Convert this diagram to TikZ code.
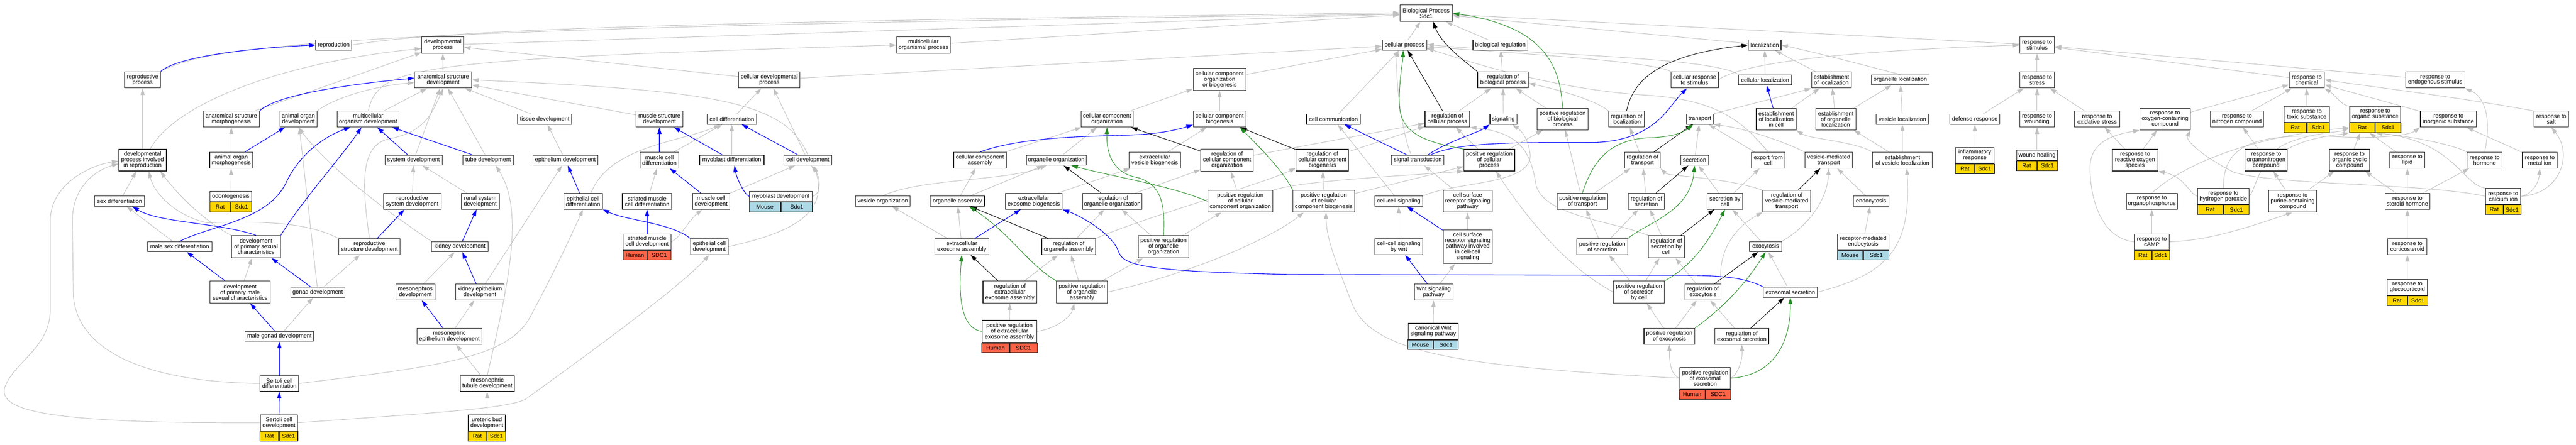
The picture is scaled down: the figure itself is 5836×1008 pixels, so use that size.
\documentclass[tikz,border=0pt]{standalone}
\usepackage{fontspec}
\setmainfont{Liberation Sans}
\usetikzlibrary{arrows.meta}
\definecolor{gy}{HTML}{FFD700}
\definecolor{lb}{HTML}{ADD8E6}
\definecolor{rd}{HTML}{FF6347}
\definecolor{eg}{HTML}{C0C0C0}
\definecolor{eG}{HTML}{228B22}
\newcommand\tf{\fontsize{13}{12.8}\selectfont}
\pgfdeclarelayer{bgpaper}\pgfdeclarelayer{bg}\pgfsetlayers{bgpaper,bg,main}
\tikzset{
 term/.style={draw=black!85, line width=1.3pt, fill=white, inner sep=0pt, align=center, font=\tf},
 gcell/.style={draw=black!85, line width=1.3pt, inner sep=0pt, minimum height=22pt, font=\tf},
 tip/.style={-{Triangle[length=15pt,width=9.5pt]}},
 isa/.style={draw=eg, line width=1.1pt, tip},
 po/.style={draw=blue, line width=1.3pt, tip},
 rg/.style={draw=black, line width=1.1pt, tip},
 pr/.style={draw=eG, line width=1.1pt, tip}
}
\newcommand\Tm[6]{\node[term,minimum width=#4pt,minimum height=#5pt] (#1) at (#2,#3) {#6};}
\newcommand\Gn[9]{\Tm{#1}{#2}{#3}{#4}{#5}{#6}%
 \node[gcell,fill=#7,minimum width=#4pt/2,anchor=north east] (#1-sp) at (#1.south) {#8};%
 \node[gcell,fill=#7,minimum width=#4pt/2,anchor=north west] (#1-g) at (#1.south) {#9};}
\begin{document}
\begin{tikzpicture}[x=1pt,y=-1pt]
\begin{pgfonlayer}{bgpaper}
\fill[white] (0,0) rectangle (5836,1008);
\end{pgfonlayer}
\useasboundingbox (0,0) rectangle (5836,1008);
% row 30/102
\Tm{bp}{3231}{30}{119}{37}{Biological Process\\Sdc1}
\Tm{repro}{756}{102}{81}{23}{reproduction}
\Tm{devproc}{1003}{102}{95}{37}{developmental\\process}
\Tm{mcop}{2092}{102}{122}{37}{multicellular\\organismal process}
\Tm{cellproc}{3182}{102}{101}{23}{cellular process}
\Tm{bioreg}{3399}{102}{124}{23}{biological regulation}
\Tm{loc}{3998}{102}{74}{23}{localization}
\Tm{respstim}{4615}{102}{79}{37}{response to\\stimulus}
% row 181
\Tm{repproc}{323}{181}{81}{37}{reproductive\\process}
\Tm{asd}{1004}{181}{129}{37}{anatomical structure\\development}
\Tm{celldevproc}{1743}{181}{139}{37}{cellular developmental\\process}
\Tm{ccob}{2763}{180}{119}{50}{cellular component\\organization\\or biogenesis}
\Tm{rbp}{3405}{181}{115}{37}{regulation of\\biological process}
\Tm{crs}{3839}{181}{107}{37}{cellular response\\to stimulus}
\Tm{cellloc}{3999}{181}{120}{23}{cellular localization}
\Tm{estloc}{4149}{181}{90}{37}{establishment\\of localization}
\Tm{orgloc}{4305}{181}{131}{23}{organelle localization}
\Tm{respstress}{4615}{181}{79}{37}{response to\\stress}
\Tm{respchem}{5226}{181}{79}{37}{response to\\chemical}
\Tm{respendo}{5517}{181}{134}{37}{response to\\endogenous stimulus}
% row 270
\Tm{asmorph}{524}{270}{127}{36}{anatomical structure\\morphogenesis}
\Tm{aod}{676}{270}{84}{36}{animal organ\\development}
\Tm{mcod}{834}{270}{141}{36}{multicellular\\organism development}
\Tm{tissuedev}{1234}{270}{123}{23}{tissue development}
\Tm{musclestruct}{1494}{270}{106}{36}{muscle structure\\development}
\Tm{celldiff}{1658}{270}{112}{23}{cell differentiation}
\Tm{cco}{2508}{270}{118}{36}{cellular component\\organization}
\Tm{ccb}{2763}{270}{119}{36}{cellular component\\biogenesis}
\Tm{cellcomm}{3021}{270}{122}{23}{cell communication}
\Tm{rcp}{3279}{270}{101}{36}{regulation of\\cellular process}
\Tm{signaling}{3406}{270}{61}{23}{signaling}
\Tm{prbp}{3540}{270}{115}{49}{positive regulation\\of biological\\process}
\Tm{regloc}{3685}{270}{81}{36}{regulation of\\localization}
\Tm{transport}{3851}{270}{61}{23}{transport}
\Tm{elic}{4024}{270}{90}{49}{establishment\\of localization\\in cell}
\Tm{eol}{4159}{270}{91}{49}{establishment\\of organelle\\localization}
\Tm{vesloc}{4310}{270}{120}{23}{vesicle localization}
\Tm{defense}{4474}{270}{113}{23}{defense response}
\Tm{wounding}{4615}{270}{79}{36}{response to\\wounding}
\Tm{oxstress}{4751}{270}{102}{36}{response to\\oxidative stress}
\Tm{rocc}{4905}{270}{114}{49}{response to\\oxygen-containing\\compound}
\Tm{nitro}{5068}{270}{120}{36}{response to\\nitrogen compound}
\Gn{toxic}{5226}{259}{102}{36}{response to\\toxic substance}{gy}{Rat}{Sdc1}
\Gn{organic}{5381}{259}{115}{36}{response to\\organic substance}{gy}{Rat}{Sdc1}
\Tm{inorganic}{5547}{270}{127}{36}{response to\\inorganic substance}
\Tm{salt}{5780}{270}{79}{36}{response to\\salt}
% row 363
\Tm{dpir}{323}{363}{108}{49}{developmental\\process involved\\in reproduction}
\Tm{aom}{524}{363}{98}{36}{animal organ\\morphogenesis}
\Tm{sysdev}{937}{363}{130}{23}{system development}
\Tm{tubedev}{1106}{363}{114}{23}{tube development}
\Tm{epidev}{1281}{363}{147}{23}{epithelium development}
\Tm{mcdiff}{1494}{363}{88}{36}{muscle cell\\differentiation}
\Tm{myodiff}{1658}{363}{146}{23}{myoblast differentiation}
\Tm{celldev}{1830}{363}{108}{23}{cell development}
\Tm{cca}{2220}{363}{119}{36}{cellular component\\assembly}
\Tm{orgorg}{2393}{363}{136}{23}{organelle organization}
\Tm{evb}{2616}{363}{117}{36}{extracellular\\vesicle biogenesis}
\Tm{rcco}{2780}{363}{119}{50}{regulation of\\cellular component\\organization}
\Tm{rccb}{2996}{363}{119}{49}{regulation of\\cellular component\\biogenesis}
\Tm{sigtrans}{3212}{363}{119}{23}{signal transduction}
\Tm{prcp}{3374}{363}{115}{49}{positive regulation\\of cellular\\process}
\Tm{regtrans}{3721}{363}{81}{36}{regulation of\\transport}
\Tm{secretion}{3839}{363}{63}{23}{secretion}
\Tm{exportcell}{4006}{363}{76}{36}{export from\\cell}
\Tm{vmt}{4143}{363}{108}{36}{vesicle-mediated\\transport}
\Tm{evl}{4310}{363}{135}{36}{establishment\\of vesicle localization}
\Gn{inflam}{4474}{352}{87}{36}{inflammatory\\response}{gy}{Rat}{Sdc1}
\Gn{woundheal}{4615}{352}{92}{23}{wound healing}{gy}{Rat}{Sdc1}
\Tm{ros}{4837}{363}{103}{49}{response to\\reactive oxygen\\species}
\Tm{orgN}{5134}{363}{95}{49}{response to\\organonitrogen\\compound}
\Tm{orgcyc}{5323}{363}{91}{49}{response to\\organic cyclic\\compound}
\Tm{lipid}{5454}{363}{79}{36}{response to\\lipid}
\Tm{hormone}{5629}{363}{79}{36}{response to\\hormone}
\Tm{metal}{5754}{363}{79}{36}{response to\\metal ion}
% row 456
\Gn{odonto}{523}{445}{94}{23}{odontogenesis}{gy}{Rat}{Sdc1}
\Tm{sexdiff}{271}{456}{113}{23}{sex differentiation}
\Tm{rsd}{934}{456}{131}{36}{reproductive\\system development}
\Tm{renal}{1088}{456}{86}{36}{renal system\\development}
\Tm{epicelldiff}{1321}{456}{88}{36}{epithelial cell\\differentiation}
\Tm{smcdiff}{1466}{456}{112}{36}{striated muscle\\cell differentiation}
\Tm{mcdev}{1611}{456}{84}{36}{muscle cell\\development}
\Gn{myodev}{1769}{445}{142}{23}{myoblast development}{lb}{Mouse}{Sdc1}
\Tm{vesorg}{2000}{456}{124}{23}{vesicle organization}
\Tm{orgasm}{2169}{456}{123}{23}{organelle assembly}
\Tm{eeb}{2342}{456}{129}{36}{extracellular\\exosome biogenesis}
\Tm{roo}{2520}{456}{135}{36}{regulation of\\organelle organization}
\Tm{prcco}{2810}{456}{148}{49}{positive regulation\\of cellular\\component organization}
\Tm{prccb}{2999}{456}{140}{49}{positive regulation\\of cellular\\component biogenesis}
\Tm{ccsig}{3169}{456}{109}{23}{cell-cell signaling}
\Tm{csrsp}{3325}{456}{111}{49}{cell surface\\receptor signaling\\pathway}
\Tm{prt}{3585}{456}{115}{36}{positive regulation\\of transport}
\Tm{regsec}{3730}{456}{82}{36}{regulation of\\secretion}
\Tm{secbycell}{3908}{456}{81}{36}{secretion by\\cell}
\Tm{rvmt}{4048}{456}{108}{49}{regulation of\\vesicle-mediated\\transport}
\Tm{endocyt}{4239}{456}{80}{23}{endocytosis}
\Tm{organophos}{4875}{456}{115}{36}{response to\\organophosphorus}
\Gn{rhp}{5037}{445}{116}{36}{response to\\hydrogen peroxide}{gy}{Rat}{Sdc1}
\Tm{purine}{5194}{456}{108}{49}{response to\\purine-containing\\compound}
\Tm{steroid}{5454}{456}{102}{36}{response to\\steroid hormone}
\Gn{calcium}{5671}{445}{79}{36}{response to\\calcium ion}{gy}{Rat}{Sdc1}
% row 559
\Tm{msd}{407}{559}{146}{23}{male sex differentiation}
\Tm{dpsc}{580}{559}{111}{50}{development\\of primary sexual\\characteristics}
\Tm{rstructd}{837}{559}{139}{36}{reproductive\\structure development}
\Tm{kidney}{1042}{559}{128}{23}{kidney development}
\Gn{smcdev}{1466}{548}{108}{36}{striated muscle\\cell development}{rd}{Human}{SDC1}
\Tm{epicelldev}{1607}{559}{85}{36}{epithelial cell\\development}
\Tm{eea}{2179}{559}{122}{36}{extracellular\\exosome assembly}
\Tm{roa}{2421}{559}{122}{36}{regulation of\\organelle assembly}
\Tm{proo}{2636}{559}{114}{50}{positive regulation\\of organelle\\organization}
\Tm{ccswnt}{3169}{559}{109}{36}{cell-cell signaling\\by wnt}
\Tm{csrspccs}{3325}{559}{111}{76}{cell surface\\receptor signaling\\pathway involved\\in cell-cell\\signaling}
\Tm{prsec}{3630}{559}{115}{36}{positive regulation\\of secretion}
\Tm{rsbc}{3775}{559}{81}{50}{regulation of\\secretion by\\cell}
\Tm{exocyt}{4000}{559}{73}{23}{exocytosis}
\Gn{rme}{4221}{548}{116}{36}{receptor-mediated\\endocytosis}{lb}{Mouse}{Sdc1}
\Gn{camp}{4875}{548}{79}{36}{response to\\cAMP}{gy}{Rat}{Sdc1}
\Tm{cortico}{5454}{559}{89}{36}{response to\\corticosteroid}
% row 662
\Tm{dpmsc}{544}{662}{137}{50}{development\\of primary male\\sexual characteristics}
\Tm{gonad}{720}{662}{122}{23}{gonad development}
\Tm{mesonephros}{941}{662}{89}{36}{mesonephros\\development}
\Tm{kidepi}{1087}{662}{110}{36}{kidney epithelium\\development}
\Tm{reea}{2288}{662}{122}{50}{regulation of\\extracellular\\exosome assembly}
\Tm{proa}{2451}{662}{115}{50}{positive regulation\\of organelle\\assembly}
\Tm{wnt}{3248}{662}{88}{36}{Wnt signaling\\pathway}
\Tm{prsbc}{3713}{662}{115}{50}{positive regulation\\of secretion\\by cell}
\Tm{rexo}{3858}{662}{81}{36}{regulation of\\exocytosis}
\Tm{exosec}{4056}{662}{123}{23}{exosomal secretion}
\Gn{gluco}{5454}{651}{91}{36}{response to\\glucocorticoid}{gy}{Rat}{Sdc1}
% row 762
\Tm{mgd}{633}{762}{155}{23}{male gonad development}
\Tm{mesoepi}{1018}{762}{147}{36}{mesonephric\\epithelium development}
\Gn{preea}{2287}{751}{124}{50}{positive regulation\\of extracellular\\exosome assembly}{rd}{Human}{SDC1}
\Gn{canwnt}{3247}{751}{113}{36}{canonical Wnt\\signaling pathway}{lb}{Mouse}{Sdc1}
\Tm{prexo}{3782}{762}{115}{36}{positive regulation\\of exocytosis}
\Tm{rexosec}{3946}{762}{122}{36}{regulation of\\exosomal secretion}
% row 869
\Tm{scdiff}{633}{869}{88}{36}{Sertoli cell\\differentiation}
\Tm{mtd}{1104}{869}{123}{36}{mesonephric\\tubule development}
\Gn{pres}{3863}{857}{115}{49}{positive regulation\\of exosomal\\secretion}{rd}{Human}{SDC1}
% row 958
\Gn{scdev}{632}{958}{84}{36}{Sertoli cell\\development}{gy}{Rat}{Sdc1}
\Gn{ureteric}{1103}{958}{84}{36}{ureteric bud\\development}{gy}{Rat}{Sdc1}

\begin{pgfonlayer}{bg}
% ---------- gray is_a ----------
\draw[isa] (repproc.north east) .. controls (480,100) and (800,62) .. ([yshift=-2pt]bp.west);
\draw[isa] (repro.east) .. controls (1000,68) and (1500,50) .. ([yshift=1pt]bp.west);
\draw[isa] (devproc) -- (bp);
\draw[isa] (mcop) -- (bp);
\draw[isa] (dpir) -- (repproc);
\draw[isa] ([xshift=17pt]dpir.north) .. controls (400,230) and (650,140) .. ([yshift=-8pt]devproc.west);
\draw[isa] (asd) -- (devproc);
\draw[isa] (asmorph) -- (devproc);
\draw[isa] (aod.north east) .. controls (760,220) and (850,195) .. ([yshift=-6pt]asd.west);
\draw[isa] (mcod) -- (asd);
\draw[isa] (mcod.north) .. controls (860,150) and (920,135) .. (mcop.west);
\draw[isa] (aom) -- (asmorph);
\draw[isa] (odonto) -- (aom);
\draw[isa] (sysdev) -- (asd);
\draw[isa] (sexdiff) -- (dpir);
\draw[isa] (rsd) -- (sysdev);
\draw[isa] (msd) -- (sexdiff);
\draw[isa] (dpmsc) -- (dpsc);
\draw[isa] (gonad) -- (rstructd);
\draw[isa] (gonad) -- (aod);
\draw[isa] (mgd) -- (gonad);
\draw[isa] (scdiff.west) .. controls (300,865) and (166,780) .. (166,660) -- (164,500) .. controls (164,420) and (220,385) .. ([yshift=-8pt]dpir.west);
\draw[isa] (scdev.west) .. controls (100,960) and (0,930) .. (10,880) .. controls (30,820) and (114,790) .. (114,700) -- (114,500) .. controls (114,420) and (200,375) .. ([yshift=-2pt]dpir.west);
\draw[isa] (scdiff.east) .. controls (1000,830) and (1150,810) .. (1200,720) .. controls (1260,610) and (1300,520) .. (epicelldiff.south);
\draw[isa] (scdev.east) .. controls (1000,935) and (1150,925) .. (1190,905) .. controls (1350,790) and (1540,650) .. (epicelldev.south);
\draw[isa] (rstructd.north) .. controls (820,420) and (815,330) .. (880,315) .. controls (960,300) and (978,260) .. (asd.south);
\draw[isa] (rstructd.north west) .. controls (700,505) and (600,500) .. (470,505) .. controls (400,490) and (350,440) .. ([xshift=14pt]dpir.south);
\draw[isa] (dpsc.north west) .. controls (470,505) and (410,450) .. ([xshift=40pt]dpir.south);
\draw[isa] (renal) -- (sysdev);
\draw[isa] (kidney.north west) .. controls (930,515) and (760,400) .. (aod.south);
\draw[isa] (mesonephros) -- (kidney);
\draw[isa] (mesoepi) -- (kidepi);
\draw[isa] (kidepi) -- (epidev);
\draw[isa] (mtd) -- (mesoepi);
\draw[isa] (mtd.north) .. controls (1150,650) and (1190,480) .. ([xshift=17pt]tubedev.south);
\draw[isa] (ureteric) -- (mtd);
\draw[isa] (tubedev) -- (asd);
\draw[isa] (tissuedev) -- (asd);
\draw[isa] (musclestruct) -- (asd);
\draw[isa] (celldev.north) .. controls (1780,230) and (1620,205) .. (asd.east);
\draw[isa] (celldev) -- (celldevproc);
\draw[isa] (celldiff) -- (celldevproc);
\draw[isa] (celldevproc) -- (devproc);
\draw[isa] (celldevproc) -- (cellproc);
\draw[isa] (mcdiff) -- (celldiff);
\draw[isa] (myodiff) -- (celldiff);
\draw[isa] (epidev) -- (tissuedev);
\draw[isa] ([xshift=18pt]epicelldiff.north) .. controls (1380,330) and (1550,320) .. (celldiff);
\draw[isa] (smcdiff) -- (mcdiff);
\draw[isa] (mcdev) -- (celldev);
\draw[isa] (myodev.east) .. controls (1862,440) and (1858,400) .. ([xshift=8pt]celldev.south);
\draw[isa] (epicelldev.east) .. controls (1780,530) and (1880,490) .. ([xshift=14pt]celldev.south);
\draw[isa] (smcdev.east) .. controls (1540,540) and (1560,500) .. ([xshift=-20pt]mcdev.south);
\draw[isa] (evb) -- (ccb);
\draw[isa] (cca) -- (cco);
\draw[isa] (orgorg) -- (cco);
\draw[isa] (cco) -- (ccob);
\draw[isa] (ccb) -- (ccob);
\draw[isa] (ccob) -- (cellproc);
\draw[isa] (vesorg.north) .. controls (2080,405) and (2280,410) .. ([xshift=-22pt]orgorg.south);
\draw[isa] (orgasm) -- (cca);
\draw[isa] (orgasm) -- (orgorg);
\draw[isa] (eeb) -- (evb);
\draw[isa] (roo) -- (rcco);
\draw[isa] (prcco) -- (rcco);
\draw[isa] (rcco) -- (rcp);
\draw[isa] (rccb) -- (rcp);
\draw[isa] (eea) -- (vesorg);
\draw[isa] (eea) -- (orgasm);
\draw[isa] (roa) -- (roo);
\draw[isa] (roa.north east) .. controls (2600,490) and (2850,420) .. ([yshift=-18pt]rccb.west);
\draw[isa] (proo) -- (roo);
\draw[isa] (proo) -- (prcco);
\draw[isa] (proa) -- (roa);
\draw[isa] (proa) -- (proo);
\draw[isa] (proa.east) .. controls (2700,620) and (2880,540) .. ([xshift=-45pt]prccb.south);
\draw[isa] (reea) -- (roa);
\draw[isa] (preea) -- (reea);
\draw[isa] (preea.east) .. controls (2390,745) and (2425,720) .. ([xshift=-17pt]proa.south);
\draw[isa] (prcco.north east) .. controls (2950,410) and (3150,400) .. (prcp.south west);
\draw[isa] (prccb) -- (rccb);
\draw[isa] (prccb) -- (prcp);
\draw[isa] (pres.west) .. controls (3300,830) and (3100,800) .. (3060,680) .. controls (3025,590) and (3005,540) .. ([xshift=5pt]prccb.south);
\draw[isa] (cellcomm) -- (cellproc);
\draw[isa] ([xshift=-15pt]sigtrans.north) .. controls (3175,300) and (3160,170) .. ([xshift=-15pt]cellproc.south);
\draw[isa] (cellproc) -- (bp);
\draw[isa] (bioreg) -- (bp);
\draw[isa] (rbp) -- (bioreg);
\draw[isa] (rcp) -- (rbp);
\draw[isa] (signaling) -- (rbp);
\draw[isa] (prbp) -- (rbp);
\draw[isa] (regloc.north west) .. controls (3620,230) and (3540,205) .. ([yshift=-8pt]rbp.east);
\draw[isa] (crs.north west) .. controls (3740,140) and (3500,125) .. ([yshift=-4pt]cellproc.east);
\draw[isa] (cellloc.north west) .. controls (3880,130) and (3500,125) .. ([yshift=1pt]cellproc.east);
\draw[isa] (exportcell.north) .. controls (3950,280) and (3900,225) .. (3720,215) .. controls (3500,200) and (3300,130) .. ([yshift=-8pt]cellproc.east);
\draw[isa] (crs.east) .. controls (3950,140) and (4200,115) .. (respstim.west);
\draw[isa] (prcp) -- (rcp);
\draw[isa] (prcp) -- (prbp);
\draw[isa] (ccsig) -- (cellcomm);
\draw[isa] (ccsig.north east) .. controls (3300,410) and (3480,420) .. (3466,345) .. controls (3460,310) and (3445,295) .. ([xshift=20pt]signaling.south);
\draw[isa] (csrsp) -- (sigtrans);
\draw[isa] (prt) -- (regtrans);
\draw[isa] (prt) -- (prbp);
\draw[isa] (regtrans) -- (regloc);
\draw[isa] (secretion) -- (transport);
\draw[isa] (regsec) -- (regtrans);
\draw[isa] (prsec) -- (prt);
\draw[isa] (prsec) -- (regsec);
\draw[isa] (rsbc) -- (regsec);
\draw[isa] (rsbc.north west) .. controls (3650,500) and (3500,490) .. (3480,420) .. controls (3468,340) and (3440,300) .. (rcp.south east);
\draw[isa] (prsbc) -- (prsec);
\draw[isa] (prsbc) -- (rsbc);
\draw[isa] (prsbc.west) .. controls (3540,600) and (3450,480) .. ([xshift=15pt]prcp.south);
\draw[isa] (rexo) -- (rsbc);
\draw[isa] (rexo.north east) .. controls (3890,560) and (3940,510) .. (rvmt.south west);
\draw[isa] (prexo) -- (prsbc);
\draw[isa] (prexo) -- (rexo);
\draw[isa] (pres.west) .. controls (3785,850) and (3782,820) .. (prexo.south);
\draw[isa] (pres.east) .. controls (3935,850) and (3948,820) .. (rexosec.south);
\draw[isa] (rexosec) -- (rexo);
\draw[isa] (exosec) -- (exocyt);
\draw[isa] (exosec.east) .. controls (4280,620) and (4330,560) .. ([xshift=10pt]evl.south);
\draw[isa] (exocyt) -- (secbycell);
\draw[isa] (exocyt.north east) .. controls (4100,510) and (4140,450) .. (vmt.south);
\draw[isa] (rme) -- (endocyt);
\draw[isa] (endocyt) -- (vmt);
\draw[isa] (secbycell) -- (secretion);
\draw[isa] (secbycell) -- (exportcell);
\draw[isa] (rvmt.north west) .. controls (3900,400) and (3780,400) .. (regtrans.south east);
\draw[isa] (vmt.north west) .. controls (4040,320) and (3950,290) .. (transport.south east);
\draw[isa] (exportcell) -- (transport);
\draw[isa] (transport.north east) .. controls (3950,240) and (4050,215) .. (estloc.south west);
\draw[isa] (cellloc) -- (loc);
\draw[isa] (estloc) -- (loc);
\draw[isa] (orgloc.north) .. controls (4230,150) and (4140,125) .. (loc.east);
\draw[isa] (loc) -- (bp);
\draw[isa] (respstim) -- (bp);
\draw[isa] (elic) -- (estloc);
\draw[isa] (eol) -- (estloc);
\draw[isa] (eol) -- (orgloc);
\draw[isa] (vesloc) -- (orgloc);
\draw[isa] (evl) -- (vesloc);
\draw[isa] (evl) -- (eol);
\draw[isa] (evl.north west) .. controls (4200,320) and (4100,315) .. (elic.south east);
\draw[isa] (respstress) -- (respstim);
\draw[isa] (defense) -- (respstress);
\draw[isa] (wounding) -- (respstress);
\draw[isa] (oxstress) -- (respstress);
\draw[isa] (inflam) -- (defense);
\draw[isa] (woundheal) -- (wounding);
\draw[isa] (ros) -- (oxstress);
\draw[isa] (ros) -- (rocc);
\draw[isa] (camp.west) .. controls (4760,540) and (4735,450) .. (4735,380) .. controls (4735,320) and (4790,305) .. (rocc.south west);
\draw[isa] (respchem) -- (respstim);
\draw[isa] (respendo) -- (respstim);
\draw[isa] (rocc) -- (respchem);
\draw[isa] (nitro) -- (respchem);
\draw[isa] (toxic) -- (respchem);
\draw[isa] (organic.north west) .. controls (5305,240) and (5290,215) .. (respchem.south east);
\draw[isa] (inorganic) -- (respchem);
\draw[isa] (salt.north west) .. controls (5600,225) and (5400,200) .. (respchem.east);
\draw[isa] (orgN) -- (nitro);
\draw[isa] (orgN.north east) .. controls (5230,310) and (5300,305) .. (organic-sp.south west);
\draw[isa] (orgcyc) -- (organic-sp);
\draw[isa] (lipid) -- (organic-sp);
\draw[isa] (hormone.north west) .. controls (5540,320) and (5420,305) .. (organic-sp.south east);
\draw[isa] (hormone.north) .. controls (5645,270) and (5630,220) .. (respendo.south east);
\draw[isa] (metal) -- (inorganic);
\draw[isa] (rhp.west) .. controls (4960,440) and (4950,400) .. (ros.south east);
\draw[isa] (rhp.north) .. controls (5037,330) and (5100,300) .. (5300,310) .. controls (5400,315) and (5460,305) .. (inorganic.south west);
\draw[isa] (rhp.east) .. controls (5110,430) and (5120,360) .. (5170,330) .. controls (5230,300) and (5300,300) .. (organic-sp.west);
\draw[isa] (purine) -- (orgN);
\draw[isa] (purine) -- (orgcyc);
\draw[isa] (camp) -- (organophos);
\draw[isa] (camp.east) .. controls (5000,545) and (5080,520) .. (purine.south);
\draw[isa] (organophos.north) .. controls (4950,370) and (5100,310) .. (organic-sp.west);
\draw[isa] (steroid) -- (orgcyc);
\draw[isa] (steroid) -- (lipid);
\draw[isa] (steroid) -- (hormone);
\draw[isa] (calcium.east) .. controls (5740,440) and (5752,410) .. (metal.south);
\draw[isa] (calcium.east) .. controls (5800,440) and (5830,350) .. (salt.south);
\draw[isa] (calcium.west) .. controls (5500,415) and (5150,420) .. (5060,390) .. controls (5000,360) and (4950,320) .. (rocc.south east);
\draw[isa] (calcium.north west) .. controls (5580,420) and (5560,320) .. (organic-sp.south east);
\draw[isa] (cortico) -- (steroid);
\draw[isa] (gluco) -- (cortico);
\draw[isa] (wnt) -- (csrspccs);
\draw[isa] (ccswnt) -- (ccsig);
\draw[isa] (csrspccs) -- (csrsp);
\draw[isa] (canwnt) -- (wnt);
% ---------- blue part_of ----------
\draw[po] (repproc.north east) .. controls (400,130) and (550,110) .. (repro.west);
\draw[po] (asmorph.north east) .. controls (620,220) and (750,195) .. ([yshift=4pt]asd.west);
\draw[po] (aom) -- (aod);
\draw[po] (sysdev) -- (mcod);
\draw[po] (tubedev) -- (mcod);
\draw[po] (msd.north) .. controls (480,510) and (610,500) .. (650,410) .. controls (690,330) and (760,300) .. ([xshift=-40pt]mcod.south);
\draw[po] (dpsc.north east) .. controls (680,460) and (770,360) .. ([xshift=-15pt]mcod.south);
\draw[po] (dpsc.north) .. controls (500,505) and (360,505) .. ([xshift=29pt]sexdiff.south);
\draw[po] (dpmsc) -- (msd);
\draw[po] (gonad) -- (dpsc);
\draw[po] (mgd) -- (dpmsc);
\draw[po] (scdiff) -- (mgd);
\draw[po] (scdev) -- (scdiff);
\draw[po] (rstructd) -- (rsd);
\draw[po] (kidney) -- (renal);
\draw[po] (kidepi) -- (kidney);
\draw[po] (mesoepi) -- (mesonephros);
\draw[po] (mcdiff) -- (musclestruct);
\draw[po] (myodiff) -- (musclestruct);
\draw[po] (celldev) -- (celldiff);
\draw[po] (epicelldiff) -- (epidev);
\draw[po] (mcdev) -- (mcdiff);
\draw[po] (myodev.west) .. controls (1685,440) and (1668,400) .. ([xshift=6pt]myodiff.south);
\draw[po] (epicelldev.north west) .. controls (1520,505) and (1420,500) .. (epicelldiff.south east);
\draw[po] (smcdev) -- (smcdiff);
\draw[po] (cca.north) .. controls (2330,305) and (2500,310) .. (2580,305) .. controls (2640,302) and (2680,290) .. ([yshift=-13pt]ccb.west);
\draw[po] (eea) -- (eeb);
\draw[po] (exosec.north west) .. controls (3950,628) and (3900,624) .. (3800,624) -- (2920,622) .. controls (2580,615) and (2545,600) .. (2534,570) .. controls (2520,530) and (2450,490) .. (eeb.south east);
\draw[po] (sigtrans) -- (cellcomm);
\draw[po] ([xshift=23pt]sigtrans.north) .. controls (3280,320) and (3350,300) .. (signaling.south west);
\draw[po] ([xshift=29pt]sigtrans.north) .. controls (3300,325) and (3400,322) .. (3600,323) .. controls (3750,323) and (3780,240) .. ([xshift=-17pt]crs.south);
\draw[po] (elic) -- (cellloc);
\draw[po] (wnt) -- (ccswnt);
\draw[po] (csrspccs) -- (ccsig);
% ---------- black regulates ----------
\draw[rg] (rbp.north west) .. controls (3320,140) and (3265,100) .. ([xshift=16pt]bp.south);
\draw[rg] (rcp) -- (cellproc);
\draw[rg] (regloc.north) .. controls (3700,180) and (3760,125) .. (loc.west);
\draw[rg] (regtrans) -- (transport);
\draw[rg] (regsec) -- (secretion);
\draw[rg] (rsbc) -- (secbycell);
\draw[rg] (rcco) -- (cco);
\draw[rg] (rccb) -- (ccb);
\draw[rg] (roo) -- (orgorg);
\draw[rg] (roa) -- (orgasm);
\draw[rg] (reea) -- (eea);
\draw[rg] (rvmt) -- (vmt);
\draw[rg] (rexo) -- (exocyt);
\draw[rg] (rexosec) -- (exosec);
% ---------- green positively regulates ----------
\draw[pr] (prbp.north) .. controls (3535,150) and (3500,60) .. (bp.east);
\draw[pr] (prcp.north west) .. controls (3220,320) and (3170,300) .. (3170,230) .. controls (3170,180) and (3178,140) .. ([xshift=-3pt]cellproc.south);
\draw[pr] (proo.north) .. controls (2640,460) and (2630,420) .. (2580,403) .. controls (2530,395) and (2506,360) .. (cco.south);
\draw[pr] (prcco.west) .. controls (2650,420) and (2520,400) .. ([xshift=34pt]orgorg.south);
\draw[pr] (proa.north west) .. controls (2330,600) and (2290,530) .. ([xshift=27pt]orgasm.south);
\draw[pr] (preea.west) .. controls (2180,745) and (2170,680) .. (eea.south);
\draw[pr] (prccb.north west) .. controls (2910,390) and (2850,330) .. ([xshift=46pt]ccb.south);
\draw[pr] (prt.north) .. controls (3610,360) and (3650,315) .. (3740,312) .. controls (3800,310) and (3820,295) .. ([xshift=-15pt]transport.south);
\draw[pr] (prsec.north east) .. controls (3730,505) and (3830,480) .. (secretion.south);
\draw[pr] (prsbc.north east) .. controls (3840,600) and (3880,530) .. (secbycell.south);
\draw[pr] (prexo.north east) .. controls (3900,700) and (3950,650) .. (exocyt.south);
\draw[pr] (pres.east) .. controls (4030,850) and (4057,760) .. (exosec.south);
\end{pgfonlayer}
\end{tikzpicture}
\end{document}
